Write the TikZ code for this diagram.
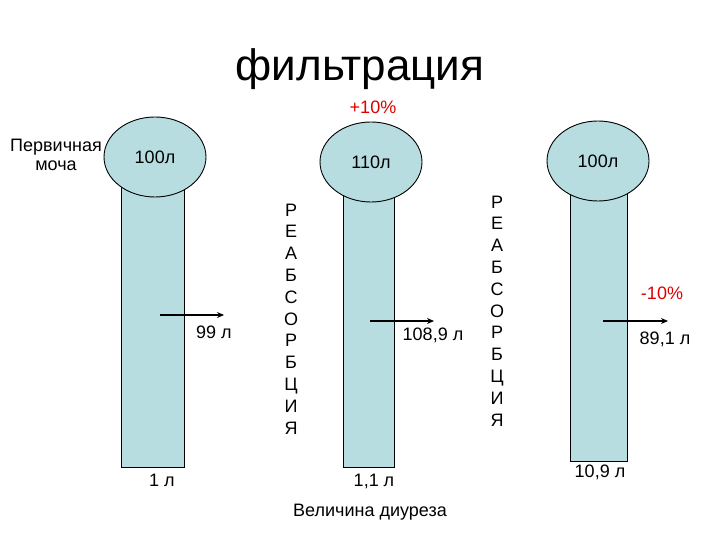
\documentclass[tikz,border=0pt]{standalone}
\usepackage{fontspec}
\setmainfont{Liberation Sans}
\usetikzlibrary{shapes.geometric,arrows.meta}
\definecolor{tube}{RGB}{183,221,225}
\definecolor{pct}{RGB}{220,0,0}
\tikzset{
  tubebox/.style={draw=black,line width=0.9bp,fill=tube,inner sep=0pt},
  bulb/.style={ellipse,draw=black,line width=0.9bp,fill=tube,minimum width=102bp,minimum height=80bp,inner sep=0pt,font=\fontsize{18bp}{21bp}\selectfont},
  lbl/.style={font=\fontsize{18bp}{19bp}\selectfont,inner sep=0pt},
  redlbl/.style={lbl,text=pct},
  vert/.style={font=\fontsize{18bp}{21.8bp}\selectfont,align=center,inner sep=0pt},
  flow/.style={line width=1.4bp,-{Stealth[length=7bp,width=6bp]}}
}
\begin{document}
\begin{tikzpicture}[x=1bp,y=-1bp]
\useasboundingbox (0,0) rectangle (720,540);
% title
\node[font=\fontsize{44bp}{50bp}\selectfont,inner sep=0pt] (title) at (360,69) {фильтрация};
% tubes
\node[tubebox,minimum width=63bp,minimum height=300bp,anchor=south west] (t1) at (121,468) {};
\node[tubebox,minimum width=51bp,minimum height=300bp,anchor=south west] (t2) at (343,468) {};
\node[tubebox,minimum width=57bp,minimum height=294bp,anchor=south west] (t3) at (570,462) {};
% bulbs
\node[bulb] (b1) at (155,157) {100л};
\node[bulb] (b2) at (371,162) {110л};
\node[bulb] (b3) at (598,161) {100л};
% labels
\node[lbl,align=center,font=\fontsize{18bp}{19bp}\selectfont] (prim) at (56,155) {Первичная\\моча};
\node[redlbl] (plus) at (373,107) {+10\%};
\node[redlbl] (minus) at (662,293) {-10\%};
% arrows
\coordinate (a1s) at (160,315); \coordinate (a1e) at (224,315);
\coordinate (a2s) at (370,321); \coordinate (a2e) at (434,321);
\coordinate (a3s) at (603,321); \coordinate (a3e) at (668,321);
\draw[flow] (a1s) -- (a1e);
\draw[flow] (a2s) -- (a2e);
\draw[flow] (a3s) -- (a3e);
\node[lbl] (v1) at (214,332) {99 л};
\node[lbl] (v2) at (433,335) {108,9 л};
\node[lbl] (v3) at (665,339) {89,1 л};
% outputs
\node[lbl] (o1) at (162,480) {1 л};
\node[lbl] (o2) at (374,481) {1,1 л};
\node[lbl] (o3) at (600,472) {10,9 л};
\node[lbl] (diur) at (370,512) {Величина диуреза};
% vertical words
\node[vert,anchor=north] (r1) at (291,203.5) {Р\\Е\\А\\Б\\С\\О\\Р\\Б\\Ц\\И\\Я};
\node[vert,anchor=north] (r2) at (497,195.5) {Р\\Е\\А\\Б\\С\\О\\Р\\Б\\Ц\\И\\Я};
\end{tikzpicture}
\end{document}
